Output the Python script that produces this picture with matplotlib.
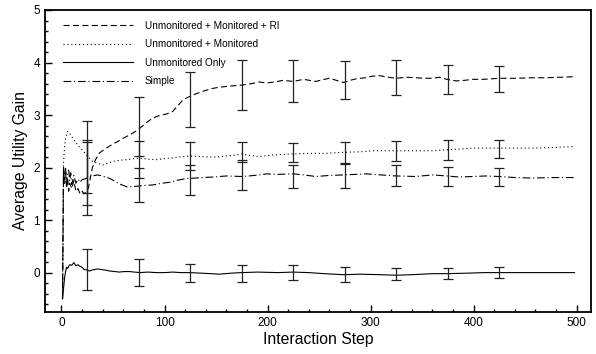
import matplotlib
matplotlib.use("Agg")
import matplotlib.pyplot as plt
from matplotlib.ticker import MultipleLocator

plt.rcParams['font.family'] = ['Liberation Sans', 'DejaVu Sans']

# ---- data ----
labels = ["Unmonitored + Monitored + RI", "Unmonitored + Monitored",
          "Unmonitored Only", "Simple"]

ri_steps = [1, 2, 3, 4, 5, 6, 7, 8, 10, 12, 14, 16, 18, 20, 22, 24, 26, 28, 30, 33, 37, 42, 46,
            50, 55, 60, 66, 72, 78, 82, 87, 92, 97, 102, 108, 113, 118, 124, 130, 137, 145, 153,
            163, 175, 185, 192, 199, 207, 215, 225, 235, 241, 247, 253, 260, 267, 274, 280, 286,
            295, 302, 309, 317, 325, 335, 344, 352, 360, 367, 374, 383, 391, 399, 410, 425, 440,
            457, 470, 485, 498]
ri_vals = [-0.5, 1.95, 1.7, 1.9, 1.6, 1.8, 1.55, 1.7, 1.6, 1.75, 1.55, 1.6, 1.5, 1.55, 1.5, 1.55,
           1.6, 1.8, 2.0, 2.15, 2.28, 2.35, 2.4, 2.45, 2.5, 2.56, 2.62, 2.69, 2.78, 2.85, 2.92,
           2.97, 3.0, 3.02, 3.07, 3.18, 3.29, 3.35, 3.4, 3.45, 3.5, 3.53, 3.55, 3.57, 3.6, 3.63,
           3.61, 3.63, 3.66, 3.64, 3.68, 3.66, 3.64, 3.67, 3.7, 3.66, 3.62, 3.66, 3.69, 3.71,
           3.74, 3.75, 3.72, 3.7, 3.72, 3.71, 3.7, 3.7, 3.72, 3.68, 3.65, 3.66, 3.68, 3.68, 3.7,
           3.7, 3.71, 3.71, 3.72, 3.73]

um_steps = [1, 2, 3, 4, 6, 8, 11, 14, 17, 21, 24, 27, 30, 35, 40, 45, 50, 57, 63, 70, 76, 84,
            92, 100, 105, 114, 124, 134, 143, 150, 160, 170, 175, 183, 192, 205, 215, 225, 240,
            255, 274, 290, 302, 315, 325, 340, 360, 374, 385, 399, 412, 425, 440, 457, 475, 498]
um_vals = [-0.5, 2.1, 2.4, 2.55, 2.69, 2.65, 2.56, 2.48, 2.4, 2.32, 2.24, 2.18, 2.12, 2.08, 2.05,
           2.08, 2.12, 2.14, 2.15, 2.17, 2.18, 2.16, 2.15, 2.17, 2.18, 2.2, 2.22, 2.21, 2.2, 2.2,
           2.22, 2.24, 2.26, 2.23, 2.21, 2.24, 2.25, 2.26, 2.27, 2.27, 2.29, 2.3, 2.32, 2.32, 2.32,
           2.32, 2.32, 2.34, 2.35, 2.37, 2.37, 2.37, 2.37, 2.37, 2.38, 2.4]

uo_steps = [1, 2, 3, 4, 5, 6, 7, 8, 10, 12, 14, 16, 18, 20, 22, 25, 27, 30, 35, 38, 42, 47, 52,
            56, 61, 66, 71, 76, 84, 92, 100, 108, 116, 124, 135, 145, 153, 165, 175, 190, 210,
            225, 240, 255, 274, 290, 310, 325, 340, 360, 374, 395, 410, 425, 450, 475, 498]
uo_vals = [-0.5, -0.3, -0.1, 0.02, 0.1, 0.08, 0.12, 0.15, 0.14, 0.19, 0.13, 0.15, 0.12, 0.1,
           0.06, 0.05, 0.03, 0.05, 0.07, 0.06, 0.05, 0.03, 0.02, 0.01, 0.02, 0.02, 0.01, 0.0,
           0.01, 0.0, 0.0, 0.01, 0.0, 0.0, -0.01, -0.02, -0.03, -0.01, 0.0, 0.01, 0.0, 0.01, 0.0,
           -0.02, -0.04, -0.03, -0.04, -0.05, -0.04, -0.02, -0.02, -0.01, 0.0, 0.0, 0.0, 0.0, 0.0]

si_steps = [1, 2, 3, 4, 5, 6, 7, 8, 9, 10, 12, 14, 16, 18, 20, 25, 30, 35, 40, 46, 52, 56, 60,
            64, 70, 76, 82, 89, 97, 105, 113, 121, 130, 137, 147, 160, 175, 182, 192, 199, 210,
            225, 235, 247, 260, 274, 285, 296, 310, 325, 344, 360, 374, 386, 399, 412, 425, 440,
            457, 475, 498]
si_vals = [-0.5, 2.0, 1.85, 1.98, 1.7, 1.92, 1.95, 1.75, 1.9, 1.68, 1.85, 1.7, 1.78, 1.72, 1.77,
           1.8, 1.84, 1.86, 1.84, 1.8, 1.74, 1.69, 1.66, 1.63, 1.64, 1.65, 1.66, 1.67, 1.7, 1.72,
           1.76, 1.79, 1.8, 1.81, 1.82, 1.84, 1.83, 1.84, 1.86, 1.88, 1.87, 1.88, 1.86, 1.83,
           1.85, 1.86, 1.87, 1.88, 1.86, 1.84, 1.83, 1.86, 1.84, 1.82, 1.83, 1.84, 1.83, 1.81,
           1.8, 1.81, 1.81]

err_steps = [25, 75, 125, 175, 225, 275, 325, 375, 425]
ri_lo = [1.10, 2.22, 2.78, 3.09, 3.24, 3.30, 3.38, 3.40, 3.43]
ri_hi = [2.88, 3.35, 3.82, 4.04, 4.04, 4.02, 4.04, 3.96, 3.94]
um_lo = [1.52, 1.80, 1.96, 2.10, 2.10, 2.09, 2.13, 2.15, 2.18]
um_hi = [2.53, 2.51, 2.48, 2.48, 2.47, 2.48, 2.51, 2.52, 2.53]
uo_lo = [-0.34, -0.25, -0.18, -0.18, -0.15, -0.18, -0.15, -0.13, -0.11]
uo_hi = [0.45, 0.25, 0.16, 0.14, 0.14, 0.10, 0.08, 0.09, 0.10]
si_lo = [1.28, 1.34, 1.48, 1.58, 1.62, 1.62, 1.64, 1.64, 1.64]
si_hi = [2.48, 2.00, 2.05, 2.15, 2.05, 2.07, 2.05, 2.02, 2.00]

# ---- figure ----
fig = plt.figure(figsize=(5.96, 3.54), dpi=100)
ax = fig.add_axes([45 / 596, 42 / 354, 546 / 596, 302 / 354])

styles = [(0, (5.5, 3)), (0, (1, 2.5)), '-', (0, (7, 2.5, 1, 2.5))]
series = [(ri_steps, ri_vals, ri_lo, ri_hi), (um_steps, um_vals, um_lo, um_hi),
          (uo_steps, uo_vals, uo_lo, uo_hi), (si_steps, si_vals, si_lo, si_hi)]

for (xs, ys, lo, hi), ls, lab in zip(series, styles, labels):
    ax.plot(xs, ys, color='black', lw=0.8, linestyle=ls, label=lab)
    mid = [(a + b) / 2 for a, b in zip(lo, hi)]
    yerr = [[m - a for m, a in zip(mid, lo)], [b - m for m, b in zip(mid, hi)]]
    ax.errorbar(err_steps, mid, yerr=yerr, fmt='none', ecolor='#222222',
                elinewidth=0.9, capsize=3.6, capthick=0.9)

ax.set_xlim(-16, 514)
ax.set_ylim(-0.75, 5)
ax.xaxis.set_major_locator(MultipleLocator(100))
ax.xaxis.set_minor_locator(MultipleLocator(20))
ax.yaxis.set_major_locator(MultipleLocator(1))
ax.yaxis.set_minor_locator(MultipleLocator(0.2))
ax.tick_params(which='both', direction='in', top=False, right=False, labelsize=8.5, width=1.0)
ax.tick_params(which='major', length=5)
ax.tick_params(which='minor', length=2.5)
for s in ax.spines.values():
    s.set_linewidth(1.3)

ax.set_xlabel("Interaction Step", fontsize=11.3, labelpad=2)
ax.set_ylabel("Average Utility Gain", fontsize=11.3, labelpad=4)

leg = ax.legend(loc='upper left', bbox_to_anchor=(0.033, 0.965), frameon=False,
                fontsize=7.2, handlelength=7.0, handletextpad=1.15, labelspacing=0.85,
                borderpad=0, borderaxespad=0)

fig.savefig("out.png", dpi=100)
